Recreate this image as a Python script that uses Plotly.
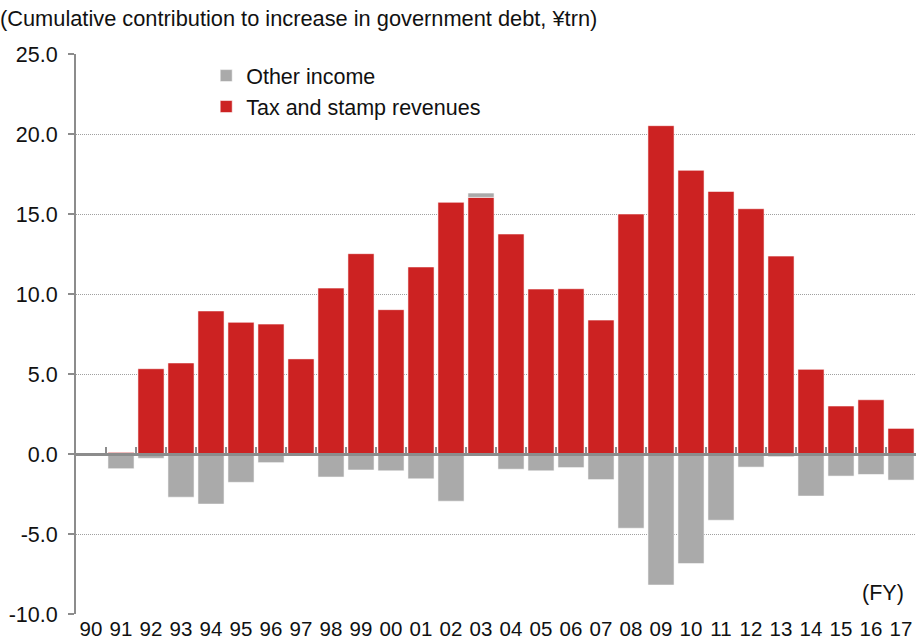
import plotly.graph_objects as go

# Fiscal years (FY1990 - FY2017)
years = ["90", "91", "92", "93", "94", "95", "96", "97", "98", "99",
         "00", "01", "02", "03", "04", "05", "06", "07", "08", "09",
         "10", "11", "12", "13", "14", "15", "16", "17"]

# Cumulative contribution, ¥trn
tax_stamp = [0.0, 0.1, 5.33, 5.69, 8.94, 8.23, 8.12, 5.96, 10.37, 12.52,
             9.02, 11.69, 15.73, 16.04, 13.75, 10.31, 10.33, 8.37, 15.0, 20.52,
             17.73, 16.41, 15.33, 12.37, 5.29, 3.0, 3.39, 1.6]
other_income = [0.0, -0.92, -0.27, -2.7, -3.13, -1.77, -0.54, 0.0, -1.44, -1.0,
                -1.05, -1.55, -2.95, 0.27, -0.95, -1.05, -0.85, -1.6, -4.64, -8.19,
                -6.85, -4.14, -0.82, -0.17, -2.63, -1.38, -1.28, -1.63]

y_tick_vals = [-10, -5, 0, 5, 10, 15, 20, 25]
y_tick_text = ["-10.0", "-5.0", "0.0", "5.0", "10.0", "15.0", "20.0", "25.0"]

RED = "#CC2222"
GREY = "#AAAAAA"
AXIS_GREY = "#8C8C8C"
FONT = "Liberation Sans, Arial, sans-serif"
TEXT = "#111111"
FS = 21.5

fig = go.Figure()
fig.add_trace(go.Bar(
    x=years, y=tax_stamp, name="Tax and stamp revenues",
    marker=dict(color=RED, line=dict(color="rgba(255,255,255,0.55)", width=1)),
))
fig.add_trace(go.Bar(
    x=years, y=other_income, name="Other income",
    marker=dict(color=GREY, line=dict(color="rgba(255,255,255,0.55)", width=1)),
))
# invisible helper trace that carries the categories of the zero-line axis
fig.add_trace(go.Scatter(
    x=years, y=[0] * len(years), xaxis="x2", mode="none",
    showlegend=False, hoverinfo="skip",
))

y_min, y_max = -10, 25

fig.update_layout(
    width=916, height=640,
    margin=dict(l=76, r=0, t=54, b=26, autoexpand=False),
    paper_bgcolor="white", plot_bgcolor="white",
    barmode="relative", bargap=0.13,
    font=dict(family=FONT, size=FS, color=TEXT),
    showlegend=True,
    legend=dict(
        x=0.155, y=0.998, xanchor="left", yanchor="top",
        traceorder="reversed", bgcolor="rgba(0,0,0,0)",
        font=dict(size=FS), itemwidth=30,
    ),
    title=dict(
        text="(Cumulative contribution to increase in government debt, ¥trn)",
        x=0.0, xref="container", xanchor="left",
        y=1 - 18 / 640, yref="container", yanchor="middle",
        font=dict(size=21.8, family=FONT, color=TEXT),
        pad=dict(l=0, t=0, b=0, r=0),
    ),
    xaxis=dict(
        type="category", categoryorder="array", categoryarray=years,
        range=[-0.5, len(years) - 0.5], automargin=False,
        showgrid=False, showline=False, zeroline=False,
        ticks="", tickfont=dict(size=20.5), ticklabelstandoff=0,
    ),
    xaxis2=dict(
        type="category", categoryorder="array", categoryarray=years,
        overlaying="x", matches="x", anchor="free", automargin=False,
        position=(0 - y_min) / (y_max - y_min),
        showgrid=False, zeroline=False,
        showline=True, linecolor=AXIS_GREY, linewidth=3,
        ticks="inside", tickson="boundaries", ticklen=6,
        tickcolor=AXIS_GREY, tickwidth=2,
        showticklabels=False,
    ),
    yaxis=dict(
        range=[y_min, y_max], automargin=False,
        tickvals=y_tick_vals, ticktext=y_tick_text,
        showgrid=True, gridcolor="#A0A0A0", griddash="1px,1px", gridwidth=1,
        zeroline=False,
        showline=True, linecolor=AXIS_GREY, linewidth=2,
        ticks="outside", ticklen=6, tickcolor=AXIS_GREY, tickwidth=2,
        tickfont=dict(size=FS), ticklabelstandoff=6,
    ),
    annotations=[dict(
        text="(FY)", xref="paper", yref="y",
        x=0.988, y=-8.7, xanchor="right", yanchor="middle",
        showarrow=False, font=dict(size=FS, family=FONT, color=TEXT),
    )],
)

fig.write_html("out.html")
